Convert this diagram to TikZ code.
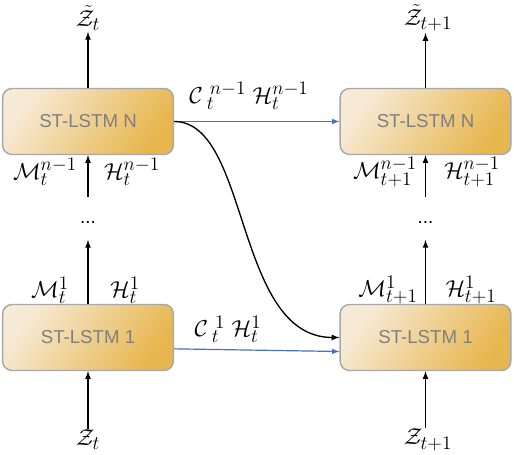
\documentclass[tikz,border=0pt]{standalone}
\usepackage{fontspec}
\newfontfamily\cellfont{Liberation Sans}

\definecolor{cellLight}{HTML}{F7EAD6}
\definecolor{cellDark}{HTML}{E7B64E}
\definecolor{cellBorder}{HTML}{A8A8A8}
\definecolor{cellText}{HTML}{7F7F7F}
\definecolor{linkBlue}{HTML}{4472C4}

\tikzset{
    cell/.style={draw=cellBorder, line width=1.1pt, rounded corners=7pt,
        minimum width=128pt, minimum height=49.5pt,
        left color=cellLight, right color=cellDark, shading angle=55,
        font=\cellfont\fontsize{14}{16}\selectfont, text=cellText},
    lbl/.style={font=\fontsize{19}{21}\selectfont, inner sep=1pt},
    flow/.style={->, line width=1pt},
    skip/.style={->, line width=0.9pt, draw=linkBlue},
}

\begin{document}
\begin{tikzpicture}[x=0.75pt, y=-0.75pt, >=latex]
    \useasboundingbox (0,0) rectangle (514,454);

    % 1. Cells (left: time t, right: time t+1)
    \node[cell] (cellNt) at (88,121.5) {ST-LSTM N};
    \node[cell] (cellNs) at (425.5,121.5) {ST-LSTM N};
    \node[cell] (cellOt) at (88,337.5) {ST-LSTM 1};
    \node[cell] (cellOs) at (425.5,337.5) {ST-LSTM 1};

    % 2. Outputs on top, inputs at the bottom
    \node[lbl] (outT) at (88,18) {$\tilde{\mathcal{Z}}_t$};
    \node[lbl] (outS) at (428,18) {$\tilde{\mathcal{Z}}_{t+1}$};
    \node[lbl] (inT) at (88,440) {$\mathcal{Z}_t$};
    \node[lbl] (inS) at (428,440) {$\mathcal{Z}_{t+1}$};

    \draw[flow] (cellNt.north) -- (cellNt.north |- outT.south);
    \draw[flow] (cellNs.north) -- (cellNs.north |- outS.south);
    \draw[flow] (cellOt.south |- inT.north) -- (cellOt.south);
    \draw[flow] (cellOs.south |- inS.north) -- (cellOs.south);

    % 3. Stack between layer 1 and layer N
    \node[lbl, font=\cellfont\fontsize{14}{16}\selectfont] (dotsT) at (88,222) {...};
    \node[lbl, font=\cellfont\fontsize{14}{16}\selectfont] (dotsS) at (425.5,222) {...};
    \coordinate (gapT) at (88,197);
    \coordinate (gapS) at (425.5,197);

    \draw[flow] (cellOt.north) -- (cellOt.north |- 0,240);
    \draw[flow] (cellOs.north) -- (cellOs.north |- 0,240);
    \draw[flow] (gapT) -- (cellNt.south);
    \draw[flow] (gapS) -- (cellNs.south);

    % 4. Labels beside the vertical arrows
    \node[lbl] (mNt) at (45,172) {$\mathcal{M}_t^{n-1}$};
    \node[lbl] (hNt) at (132,172) {$\mathcal{H}_t^{n-1}$};
    \node[lbl] (mNs) at (385,172) {$\mathcal{M}_{t+1}^{n-1}$};
    \node[lbl] (hNs) at (472,172) {$\mathcal{H}_{t+1}^{n-1}$};
    \node[lbl] (mOt) at (50,290) {$\mathcal{M}_t^{1}$};
    \node[lbl] (hOt) at (125,290) {$\mathcal{H}_t^{1}$};
    \node[lbl] (mOs) at (388,290) {$\mathcal{M}_{t+1}^{1}$};
    \node[lbl] (hOs) at (471,290) {$\mathcal{H}_{t+1}^{1}$};

    % 5. Links from time t to time t+1
    \draw[skip] (cellNt.east) -- (cellNs.west);
    \draw[skip] ([yshift=-8.5pt]cellOt.east) -- ([yshift=-10.5pt]cellOs.west);
    \draw[flow] (cellNt.east) .. controls +(76,0) and +(-105,0) .. (cellOs.west);

    \node[lbl] (cNt) at (249,96) {$\mathcal{C}\,{}_t^{\,n-1}\;\mathcal{H}_t^{n-1}$};
    \node[lbl] (cOt) at (228,329) {$\mathcal{C}\,{}_t^{\,1}\;\mathcal{H}_t^{1}$};
\end{tikzpicture}
\end{document}
